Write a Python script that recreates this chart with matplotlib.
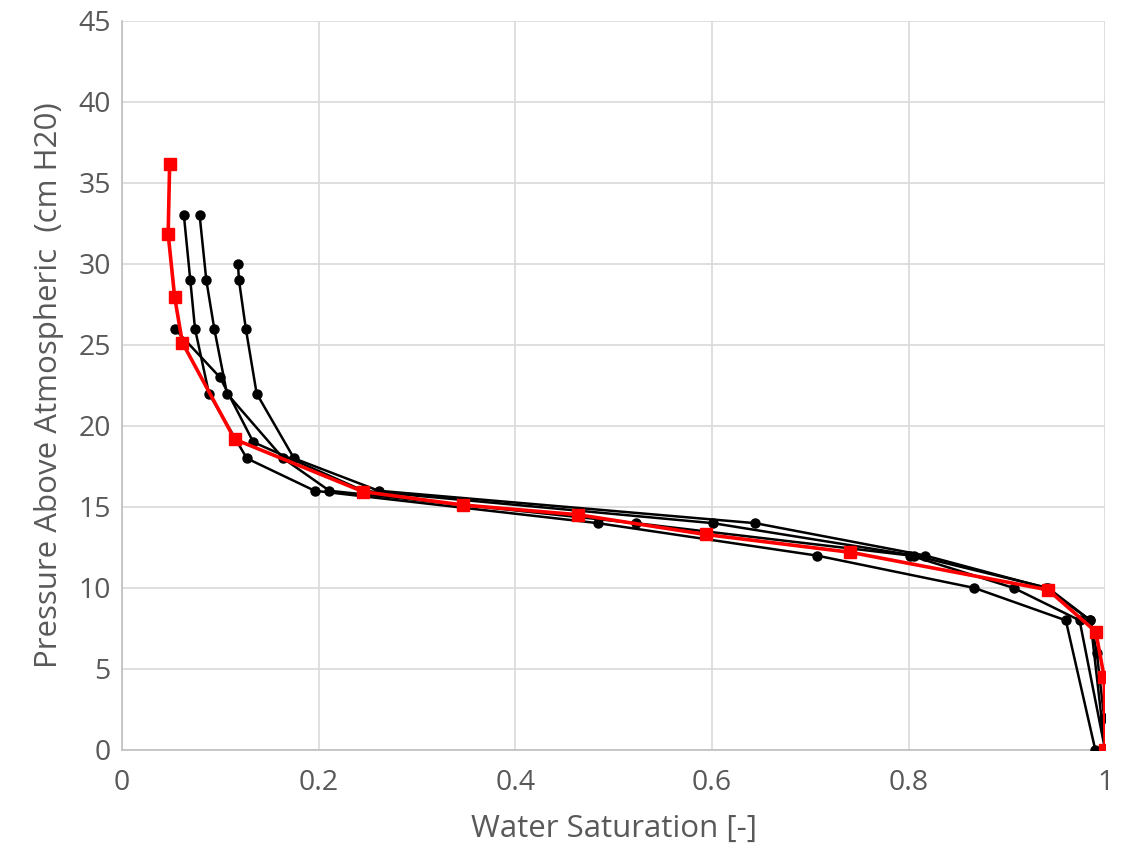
import matplotlib
matplotlib.use('Agg')
import matplotlib.pyplot as plt
from matplotlib.ticker import FuncFormatter

# measured drainage curves: pressure head (cm H2O) vs water saturation
p1 = [33, 29, 26, 22, 18, 16, 14, 12, 10, 8, 0]
sw1 = [0.063, 0.0695, 0.0743, 0.0885, 0.127, 0.196, 0.484, 0.7067, 0.867, 0.960, 0.990]

p2 = [33, 29, 26, 22, 18, 16, 14, 12, 10, 8, 0]
sw2 = [0.079, 0.0858, 0.0939, 0.1068, 0.164, 0.211, 0.5226, 0.802, 0.907, 0.974, 1.0]

p3 = [30, 29, 26, 22, 18, 16, 14, 12, 10, 8, 6, 2, 0]
sw3 = [0.118, 0.119, 0.126, 0.137, 0.175, 0.261, 0.644, 0.817, 0.940, 0.985, 0.9915, 0.999, 1.0]

p4 = [26, 23, 19, 16, 14, 12, 10, 8, 0]
sw4 = [0.0536, 0.0997, 0.1336, 0.2455, 0.601, 0.806, 0.942, 0.985, 1.0]

# averaged curve
p_avg = [36.2, 31.85, 27.96, 25.15, 19.18, 15.94, 15.12, 14.52, 13.3, 12.2, 9.88, 7.3, 4.49, 0]
sw_avg = [0.0485, 0.0470, 0.0536, 0.0614, 0.1146, 0.2455, 0.3466, 0.464, 0.5938, 0.741,
          0.942, 0.9905, 0.999, 1.0]

plt.rcParams['font.family'] = ['Open Sans', 'DejaVu Sans']
grey = '#595959'

fig = plt.figure(figsize=(11.23, 8.63), dpi=100)
ax = fig.add_axes([0.1086, 0.131, 0.8755, 0.8447])

for sw, p in [(sw1, p1), (sw2, p2), (sw3, p3), (sw4, p4)]:
    ax.plot(sw, p, color='black', lw=1.8, marker='o', ms=6.5, zorder=3)
ax.plot(sw_avg, p_avg, color='#ff0000', lw=2.6, marker='s', ms=8.5, zorder=4)

ax.set_xlim(0, 1)
ax.set_ylim(0, 45)
ax.set_xticks([0, 0.2, 0.4, 0.6, 0.8, 1.0])
ax.set_yticks(range(0, 46, 5))
ax.xaxis.set_major_formatter(FuncFormatter(lambda v, pos: '%g' % v))
ax.grid(True, color='#d9d9d9', lw=1.2, zorder=0)
ax.set_axisbelow(True)
for side in ['top', 'right']:
    ax.spines[side].set_visible(False)
for side in ['left', 'bottom']:
    ax.spines[side].set_color('#bfbfbf')
    ax.spines[side].set_linewidth(1.2)
ax.tick_params(length=0, labelsize=20.5, labelcolor=grey)
ax.tick_params(axis='x', pad=14)
ax.tick_params(axis='y', pad=8)

ax.set_xlabel('Water Saturation [-]', fontsize=22.5, color=grey, labelpad=12)
ax.set_ylabel('Pressure Above Atmospheric  (cm H20)', fontsize=22.5, color=grey, labelpad=10)

fig.savefig('out.png', dpi=100)
